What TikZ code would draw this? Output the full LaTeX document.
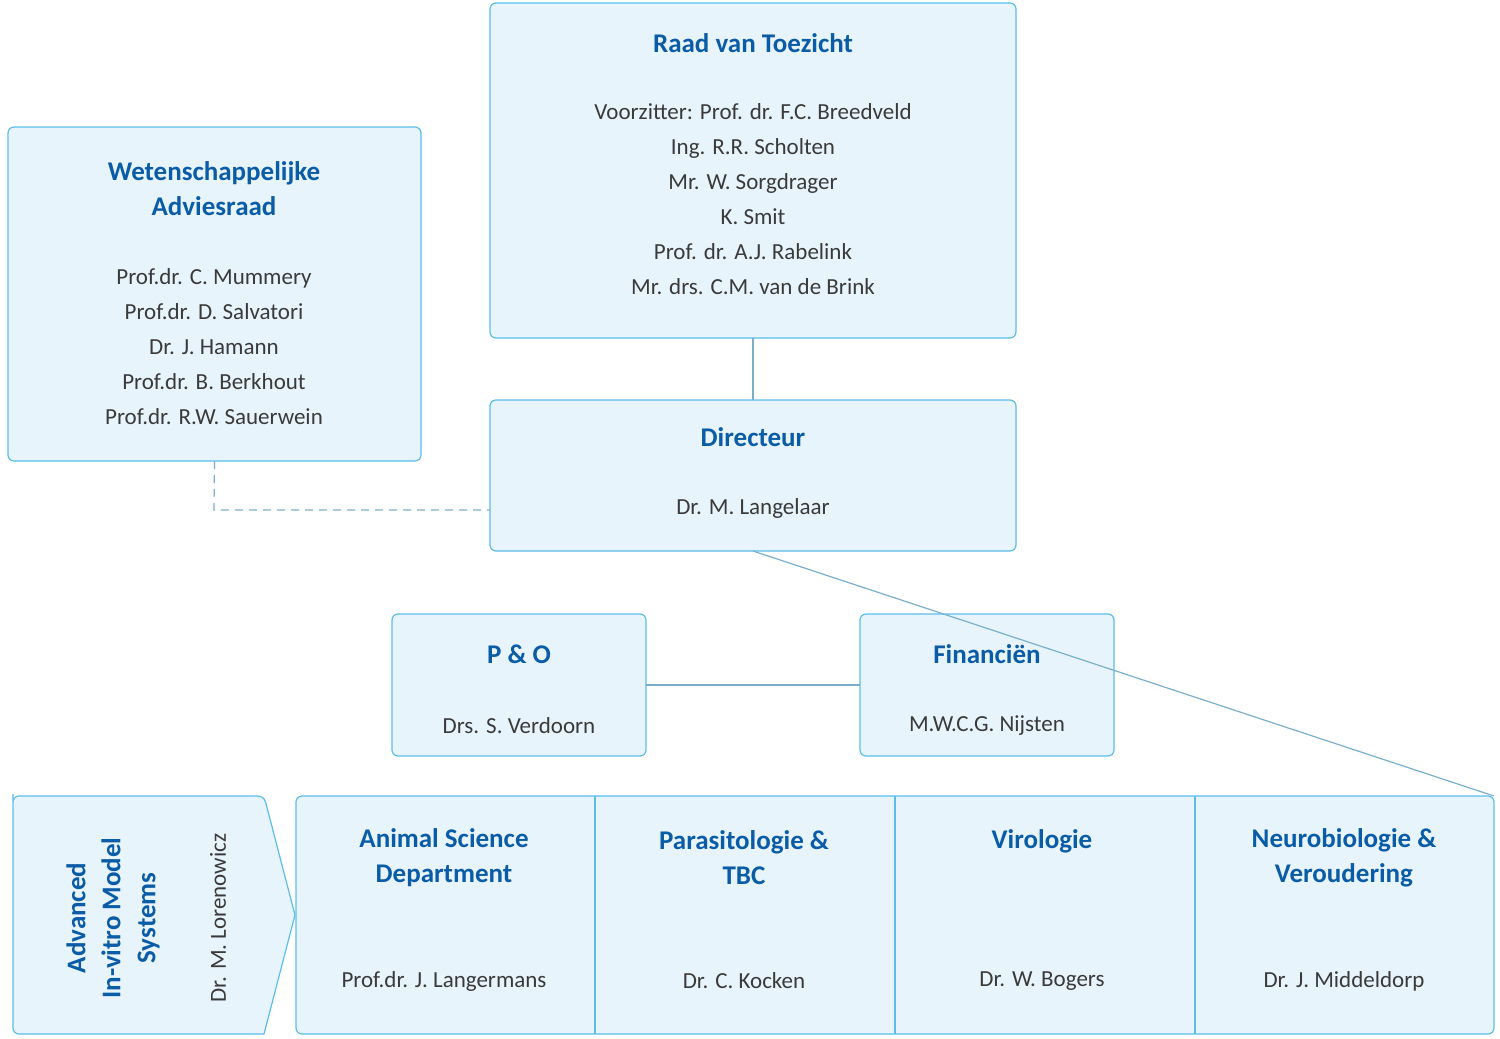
\documentclass[tikz,border=0pt]{standalone}
\usepackage{fontspec}
\setmainfont{Carlito}
\begin{document}
\definecolor{bfill}{HTML}{E8F4FC}
\definecolor{bline}{HTML}{5CBDEB}
\definecolor{ttl}{HTML}{0B5CA6}
\definecolor{txt}{HTML}{3A3A3A}
\definecolor{conn}{HTML}{7AAFCB}
\begin{tikzpicture}[x=0.5pt,y=-0.5pt,
  box/.style={draw=bline,fill=bfill,rounded corners=3pt,line width=0.6pt,inner sep=0,outer sep=0},
  ttl/.style={text=ttl,font=\fontsize{13.5}{17.5}\selectfont\bfseries,align=center},
  nm/.style={text=txt,font=\fontsize{11.5}{17.5}\selectfont,align=center},
  con/.style={draw=conn,line width=0.6pt}]
\useasboundingbox (0,0) rectangle (1500,1039);
% boxes
\node[box,minimum width=263pt,minimum height=167.5pt,anchor=north west] (raad) at (490,3) {};
\node[box,minimum width=206.5pt,minimum height=167pt,anchor=north west] (wet) at (8,127) {};
\node[box,minimum width=263pt,minimum height=75.5pt,anchor=north west] (dir) at (490,400) {};
\node[box,minimum width=127pt,minimum height=71pt,anchor=north west] (po) at (392,614) {};
\node[box,minimum width=127pt,minimum height=71pt,anchor=north west] (fin) at (860,614) {};
\node[box,minimum width=599pt,minimum height=119pt,anchor=north west] (dep) at (296,796) {};
\draw[bline,line width=0.6pt] (595,796) -- (595,1034) (895,796) -- (895,1034) (1195,796) -- (1195,1034);
\draw[box] (13,800) [rounded corners=3pt] -- (13,796) -- (264,796) [sharp corners] -- (295,915) -- (264,1034) [rounded corners=3pt] -- (13,1034) -- cycle;
\coordinate (avs) at (150,915);
% texts
\node[ttl] (t1) at (753,43) {Raad van Toezicht};
\node[nm,anchor=north] (t1n) at (753,96) {Voorzitter: Prof. dr. F.C. Breedveld\\Ing. R.R. Scholten\\Mr. W. Sorgdrager\\K. Smit\\Prof. dr. A.J. Rabelink\\Mr. drs. C.M. van de Brink};
\node[ttl] (t2) at (214,189) {Wetenschappelijke\\Adviesraad};
\node[nm,anchor=north] (t2n) at (214,261) {Prof.dr. C. Mummery\\Prof.dr. D. Salvatori\\Dr. J. Hamann\\Prof.dr. B. Berkhout\\Prof.dr. R.W. Sauerwein};
\node[ttl] (t3) at (753,437) {Directeur};
\node[nm] (t3n) at (753,508) {Dr. M. Langelaar};
\node[ttl] (t4) at (519,654) {P \& O};
\node[nm] (t4n) at (519,726) {Drs. S. Verdoorn};
\node[ttl] (t5) at (987,654) {Financiën};
\node[nm] (t5n) at (987,726) {M.W.C.G. Nijsten};
\node[ttl] (d1) at (444,858) {Animal Science\\Department};
\node[nm] (d1n) at (444,981) {Prof.dr. J. Langermans};
\node[ttl] (d2) at (744,858) {Parasitologie \&\\TBC};
\node[nm] (d2n) at (744,981) {Dr. C. Kocken};
\node[ttl] (d3) at (1042,841) {Virologie};
\node[nm] (d3n) at (1042,981) {Dr. W. Bogers};
\node[ttl] (d4) at (1344,858) {Neurobiologie \&\\Veroudering};
\node[nm] (d4n) at (1344,981) {Dr. J. Middeldorp};
\node[ttl,rotate=90] (a1) at (113,918) {Advanced\\In-vitro Model\\Systems};
\node[nm,rotate=90] (a1n) at (218,918) {Dr. M. Lorenowicz};
% connectors
\coordinate (jun) at (753,685);
\draw[con] (raad.south) -- (dir.north);
\draw[con] (dir.south) -- (dep.north east);
\draw[con] (po.east) -- (fin.west);
\coordinate (wb) at (214,510);
\draw[con,dash pattern=on 4pt off 3pt] (wet.south) -- (wb) -- (dir.west |- wb);
\end{tikzpicture}
\end{document}
